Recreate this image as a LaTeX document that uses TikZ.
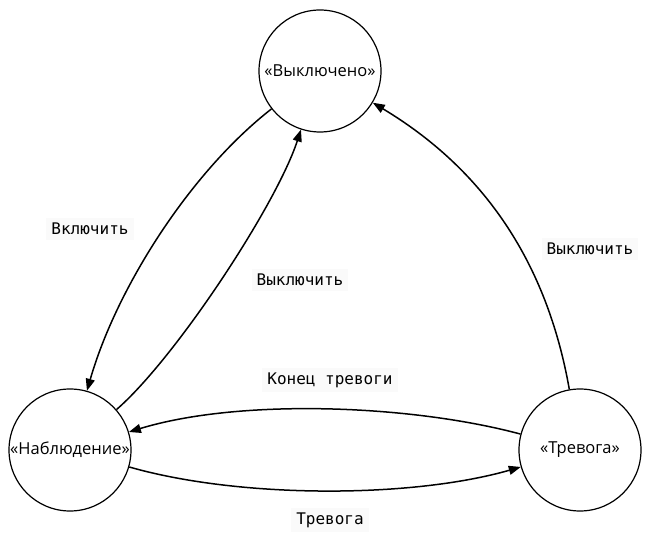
\documentclass[tikz,border=0pt]{standalone}
\usepackage{fontspec}
\setmainfont{Open Sans}
\newfontfamily\edgefont{DejaVu Sans Mono}
\usetikzlibrary{arrows.meta}
\begin{document}
\begin{tikzpicture}[x=1pt,y=1pt,
  state/.style={circle,draw,line width=1.2pt,minimum size=122pt,inner sep=0pt,font=\fontsize{16.5}{19}\selectfont},
  trans/.style={line width=1.5pt,-{Triangle[length=12pt,width=9pt]}},
  lbl/.style={fill=black!2,inner sep=5pt,font=\edgefont\fontsize{16}{19}\selectfont}]
\useasboundingbox (0,0) rectangle (650,543);
\node[state] (t) at (320,472) {«Выключено»};
\node[state] (l) at (70,93) {«Наблюдение»};
\node[state] (r) at (580,93) {«Тревога»};
\draw[trans] (t) to[out=218,in=74,looseness=0.8] (l);
\draw[trans] (l) to[out=41,in=252,looseness=0.6] (t);
\draw[trans] (r) to[out=100,in=329,looseness=0.95] (t);
\draw[trans] (r) to[out=165,in=17,looseness=0.75] (l);
\draw[trans] (l) to[out=-16,in=196,looseness=0.75] (r);
\node[lbl] (a) at (90,314) {Включить};
\node[lbl] (b) at (300,263) {Выключить};
\node[lbl] (c) at (590,294) {Выключить};
\node[lbl] (d) at (330,163) {Конец тревоги};
\node[lbl] (e) at (330,23) {Тревога};
\end{tikzpicture}
\end{document}
